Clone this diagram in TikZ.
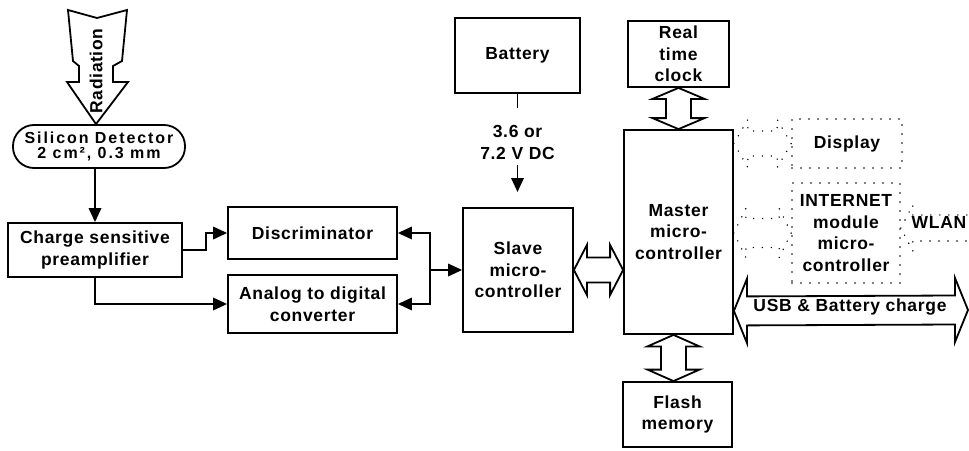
\documentclass[tikz,border=0pt]{standalone}
\usepackage{fontspec}
\setmainfont{Liberation Sans}[LetterSpace=4]
\usetikzlibrary{calc,arrows.meta}
% vertical hollow double arrow: #2 top tip, #3 bottom tip, #4 head half width, #5 shaft half width, #6 head length
\newcommand{\fatV}[6][]{%
  \draw[fatarrow,#1] (#2) -- ++(#4,#6) -- ++({#5-#4},0) -- ($(#3)+(#5,{-#6})$) -- ++({#4-#5},0) -- (#3)
    -- ++({-#4},{-#6}) -- ++({#4-#5},0) -- ($(#2)+({-#5},#6)$) -- ++({#5-#4},0) -- cycle;}
% horizontal hollow double arrow: #2 left tip, #3 right tip, #4 head half height, #5 shaft half height, #6 head length
\newcommand{\fatH}[6][]{%
  \draw[fatarrow,#1] (#2) -- ++(#6,{-#4}) -- ++(0,{#4-#5}) -- ($(#3)+({-#6},{-#5})$) -- ++(0,{#5-#4}) -- (#3)
    -- ++({-#6},#4) -- ++(0,{#5-#4}) -- ($(#2)+(#6,#5)$) -- ++(0,{#4-#5}) -- cycle;}
\begin{document}
\begin{tikzpicture}[x=1pt,y=-1pt,
  every node/.append style={font=\bfseries\fontsize{17.5}{21.5}\selectfont},
  blk/.style={draw,line width=1.8pt,align=center,inner sep=0pt},
  dotblk/.style={draw,line width=1.6pt,dash pattern=on 0pt off 9pt,line cap=round,align=center,inner sep=0pt},
  lbl/.style={align=center,inner sep=0pt},
  fatarrow/.style={draw,fill=white,line width=1.8pt,line join=miter},
  dotarrow/.style={fill=none,line width=1.6pt,dash pattern=on 0pt off 9pt,line cap=round,line join=round},
  tip/.tip={Triangle[length=14pt,width=12.5pt]},
  arr/.style={line width=1.8pt,-tip},
  arrb/.style={line width=1.8pt,tip-tip},
  ln/.style={line width=1.8pt}]
\useasboundingbox (0,0) rectangle (969,450);
\clip (0,0) rectangle (969,450);

% blocks
\node[blk,rounded corners=21pt,minimum width=172pt,minimum height=43pt,
      font=\bfseries\fontsize{16}{15}\selectfont\addfontfeatures{LetterSpace=12}] (det) at (99,146.5) {Silicon Detector\\2 cm², 0.3 mm};
\node[blk,minimum width=174pt,minimum height=54pt] (charge) at (95,250) {Charge sensitive\\preamplifier};
\node[blk,minimum width=169pt,minimum height=52pt] (disc) at (312.5,233) {Discriminator};
\node[blk,minimum width=169pt,minimum height=58pt] (adc) at (312.5,304) {Analog to digital\\converter};
\node[blk,minimum width=125pt,minimum height=75pt] (bat) at (517.5,55.5) {Battery};
\node[blk,minimum width=110pt,minimum height=124pt] (slave) at (518,270) {Slave\\micro-\\controller};
\node[blk,minimum width=101pt,minimum height=66pt] (rtc) at (678.5,54) {Real\\time\\clock};
\node[blk,minimum width=109pt,minimum height=204pt] (master) at (678.5,232) {Master\\micro-\\controller};
\node[blk,minimum width=109pt,minimum height=65pt] (flash) at (677.5,414.5) {Flash\\memory};
\node[dotblk,minimum width=110pt,minimum height=49pt] (disp) at (847,143.5) {Display};
\node[dotblk,minimum width=108pt,minimum height=100pt] (inet) at (846,233) {INTERNET\\module\\micro-\\controller};

% radiation arrow
\draw[fatarrow] (68,10) -- (97,18) -- (127,10) -- (122,61) -- (113,66) -- (113,82) -- (128,82)
  -- (det.north -| 96,0) -- (67,82) -- (79,82) -- (79,66) -- (73,61) -- cycle;
\node[lbl,rotate=90] (rad) at (96,71) {Radiation};

% connectors
\draw[arr] (charge.north |- det.south) -- (charge.north);
\draw[arr] (charge.east) -- ++(23,0) |- (disc.west);
\draw[arr] (charge.south) |- (adc.west);
\coordinate (bus) at (430,270);
\draw[arr] (bus) -- (slave.west);
\draw[arrb] (disc.east) -- (disc.east -| bus) -- (adc.east -| bus) -- (adc.east);

% battery supply
\node[lbl] (volt) at (517.5,142.5) {3.6 or\\7.2 V DC};
\coordinate (vtop) at (517.5,108);
\coordinate (vbot) at (517.5,165);
\coordinate (vtip) at (517.5,192);
\draw[ln] (bat.south) -- (vtop);
\draw[arr] (vbot) -- (vtip);

% hollow double arrows
\fatV{rtc.south}{master.north}{26}{12.5}{11}
\coordinate (smR) at (slave.east -| master.west);
\fatH{slave.east}{smR}{25}{12.5}{13}
\coordinate (fmT) at ($(master.south)+(-5,0)$);
\coordinate (fmB) at (fmT |- flash.north);
\fatV{fmT}{fmB}{26}{12.5}{11.5}
\coordinate (usbL) at ($(master.south east)+(0,-24)$);
\coordinate (usbR) at (968,310);
\fatH{usbL}{usbR}{32}{14.5}{13}
\node[lbl] (usb) at (850,307) {USB \& Battery charge};

% dotted arrows
\coordinate (d1) at (master.east |- disp.west);
\fatH[dotarrow]{d1}{disp.west}{24}{12.5}{14}
\coordinate (i1) at (master.east |- inet.west);
\fatH[dotarrow]{i1}{inet.west}{24.5}{14.5}{12}
\coordinate (w1) at ($(inet.east)+(0,-5)$);
\coordinate (w2) at (1010,228);
\fatH[dotarrow]{w1}{w2}{23}{13}{12}
\node[lbl] (wlan) at (939,222) {WLAN};
\end{tikzpicture}
\end{document}
